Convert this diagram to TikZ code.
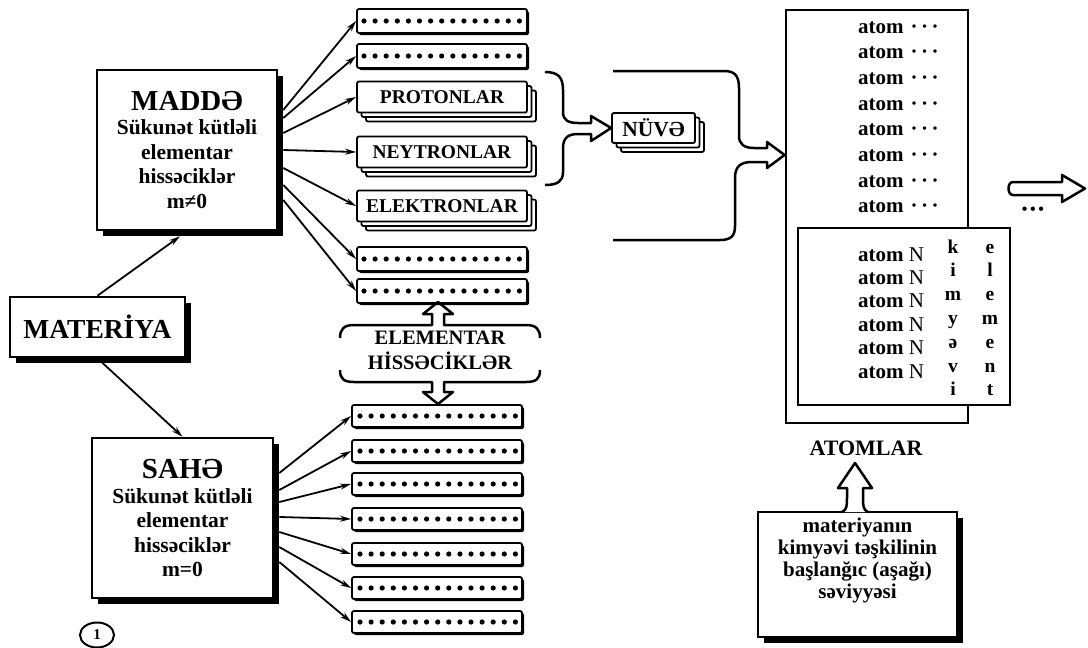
\documentclass[tikz,border=0pt]{standalone}
\usepackage{fontspec}
\setmainfont{Liberation Serif}
\usetikzlibrary{arrows.meta,shadows,shapes.geometric}

\begin{document}
\begin{tikzpicture}[x=1pt,y=-1pt,
  bigbox/.style={draw, line width=2.6pt, fill=white, inner sep=0pt, align=center,
    font=\bfseries\fontsize{21.5}{24.5}\selectfont,
    drop shadow={shadow xshift=6pt, shadow yshift=-6pt, fill=black, opacity=1}},
  dotbox/.style={draw, line width=1.8pt, fill=white, rounded corners=2pt,
    minimum width=170pt, minimum height=24pt, inner sep=0pt,
    drop shadow={shadow xshift=2pt, shadow yshift=-2pt, fill=black, opacity=1}},
  namebox/.style={draw, line width=1.8pt, fill=white, rounded corners=2pt,
    minimum width=170pt, minimum height=31pt, inner sep=0pt,
    font=\bfseries\fontsize{19.5}{19.5}\selectfont,
    double copy shadow={shadow xshift=4.5pt, shadow yshift=-4.5pt}},
  pointer/.style={-{Stealth[length=11pt,width=6pt]}, line width=1.8pt},
  hollow/.style={line width=2.5pt, line join=round},
  atomtxt/.style={anchor=base west, inner sep=0pt, font=\bfseries\fontsize{21}{21}\selectfont},
  letter/.style={anchor=base, inner sep=0pt, font=\bfseries\fontsize{19.5}{19.5}\selectfont}
]
\useasboundingbox (0,0) rectangle (1088,648);
\fill[white] (0,0) rectangle (1088,648);

% left column
\node[bigbox, minimum width=175pt, minimum height=60pt, font=\bfseries\fontsize{27.5}{27.5}\selectfont] (MATERIYA) at (97.5,327) {MATERİYA};
\node[bigbox, minimum width=180pt, minimum height=160pt] (MADDE) at (187,150) {{\fontsize{29}{30}\selectfont MADDƏ}\\Sükunət kütləli\\elementar\\hissəciklər\\m≠0};
\node[bigbox, minimum width=181pt, minimum height=160pt] (SAHE) at (182.5,518) {{\fontsize{29}{30}\selectfont SAHƏ}\\Sükunət kütləli\\elementar\\hissəciklər\\m=0};
\node[draw, ellipse, line width=2pt, minimum width=34pt, minimum height=25pt, inner sep=0pt, font=\bfseries\fontsize{15}{15}\selectfont] (NUM) at (97,635) {1};
\draw[pointer] (MATERIYA.north) -- ([xshift=-7pt,yshift=-5pt]MADDE.south);
\draw[pointer] (MATERIYA.south) -- (SAHE.north);

% particles with rest mass
\foreach \n/\y in {T1/21, T2/56, T6/259, T7/291} {
  \node[dotbox] (\n) at (442,\y) {};
  \foreach \k in {0,...,14} \fill (364+\k*11.1,\y) circle (2.6pt);
}
\node[namebox] (PROTON) at (442,97) {PROTONLAR};
\node[namebox] (NEYTRON) at (442,152) {NEYTRONLAR};
\node[namebox] (ELEKTRON) at (442,206) {ELEKTRONLAR};
\foreach \s/\t in {40/T1, 32/T2, 17/PROTON, 0/NEYTRON, -18/ELEKTRON, -35/T6, -50/T7}
  \draw[pointer] ([xshift=5pt,yshift=\s pt]MADDE.east) -- (\t.west);

% field particles
\foreach \y [count=\i] in {416,451,484,519,554,588,622} {
  \node[dotbox, minimum height=22pt] (B\i) at (437,\y) {};
  \foreach \k in {0,...,14} \fill (360+\k*11.1,\y) circle (2.6pt);
}
\foreach \s [count=\i] in {45,28,16,1,-14,-29,-44}
  \draw[pointer] ([xshift=5pt,yshift=\s pt]SAHE.east) -- (B\i.west);

% elementar hissəciklər
\node[align=center, font=\bfseries\fontsize{20.5}{25}\selectfont] (ELEM) at (440,350) {ELEMENTAR\\HİSSƏCİKLƏR};
\draw[hollow] (340,338) .. controls (340,329) and (344,325) .. (354,325) -- (432,325) -- (432,314) -- (423,314) -- (438,302) -- (453,314) -- (444,314) -- (444,325) -- (526,325) .. controls (536,325) and (540,329) .. (540,338);
\draw[hollow] (340,370) .. controls (340,379) and (344,382) .. (354,382) -- (432,382) -- (432,392) -- (423,392) -- (438,404) -- (453,392) -- (444,392) -- (444,382) -- (526,382) .. controls (536,382) and (540,379) .. (540,370);

% nucleus
\node[namebox, minimum width=83pt, minimum height=30pt, font=\bfseries\fontsize{21.5}{21.5}\selectfont] (NUVE) at (653.5,128) {NÜVƏ};
\draw[hollow] (545,72) .. controls (558,72) and (563,77) .. (563,90) -- (563,112) .. controls (563,120) and (568,123) .. (578,123) -- (591,123) -- (591,116) -- (NUVE.west) -- (591,141) -- (591,134) -- (578,134) .. controls (568,134) and (563,138) .. (563,148) -- (563,172) .. controls (563,181) and (558,185) .. (545,185);

% atoms
\node[draw, line width=2.8pt, fill=white, minimum width=182pt, minimum height=413pt] (ATOMS) at (877,216.5) {};
\node[draw, line width=2.8pt, fill=white, minimum width=212pt, minimum height=177pt] (ATOMN) at (904,316.5) {};
\draw[hollow] (613,71) -- (724,71) .. controls (735,71) and (739,76) .. (739,88) -- (739,136) .. controls (739,144) and (744,148) .. (754,148) -- (767,148) -- (767,142) -- (ATOMS.west |- 0,155) -- (767,168) -- (767,162) -- (752,162) .. controls (741,162) and (735,166) .. (735,178) -- (735,226) .. controls (735,236) and (731,240) .. (720,240) -- (613,240);
\foreach \i in {0,...,7}
  \node[atomtxt] (A\i) at (858,33+\i*25.7) {atom\,\,·\,·\,·};
\foreach \i in {0,...,5}
  \node[atomtxt] (N\i) at (858,261+\i*23.4) {atom \textmd{N}};
\foreach \c [count=\i from 0] in {k,i,m,y,ə,v,i}
  \node[letter] (K\i) at (953,253+\i*23.8) {\c};
\foreach \c [count=\i from 0] in {e,l,e,m,e,n,t}
  \node[letter] (E\i) at (990,253+\i*23.8) {\c};
\node[font=\bfseries\fontsize{22}{22}\selectfont] (ATOMLAR) at (866,448) {ATOMLAR};

% lowest level
\node[bigbox, minimum width=199pt, minimum height=125pt] (INFO) at (857.5,574.5) {};
\node[align=center, font=\bfseries\fontsize{21}{22}\selectfont] (INFOTXT) at (857.5,560) {materiyanın\\kimyəvi təşkilinin\\başlanğıc (aşağı)\\səviyyəsi};
\draw[hollow, fill=white] (842,512) .. controls (847,510) and (847,505) .. (847,498) -- (847,488) -- (838,488) -- (855,463) -- (872,488) -- (863,488) -- (863,498) .. controls (863,505) and (863,510) .. (868,512);

% next level
\draw[hollow, fill=white] (1013,182) -- (1062,182) -- (1062,175) -- (1085,188.5) -- (1062,202) -- (1062,195) -- (1013,195) .. controls (1007,195) and (1007,182) .. (1013,182) -- cycle;
\node[font=\bfseries\fontsize{16}{16}\selectfont] (MORE) at (1033,211) {•\,•\,•};
\end{tikzpicture}
\end{document}
